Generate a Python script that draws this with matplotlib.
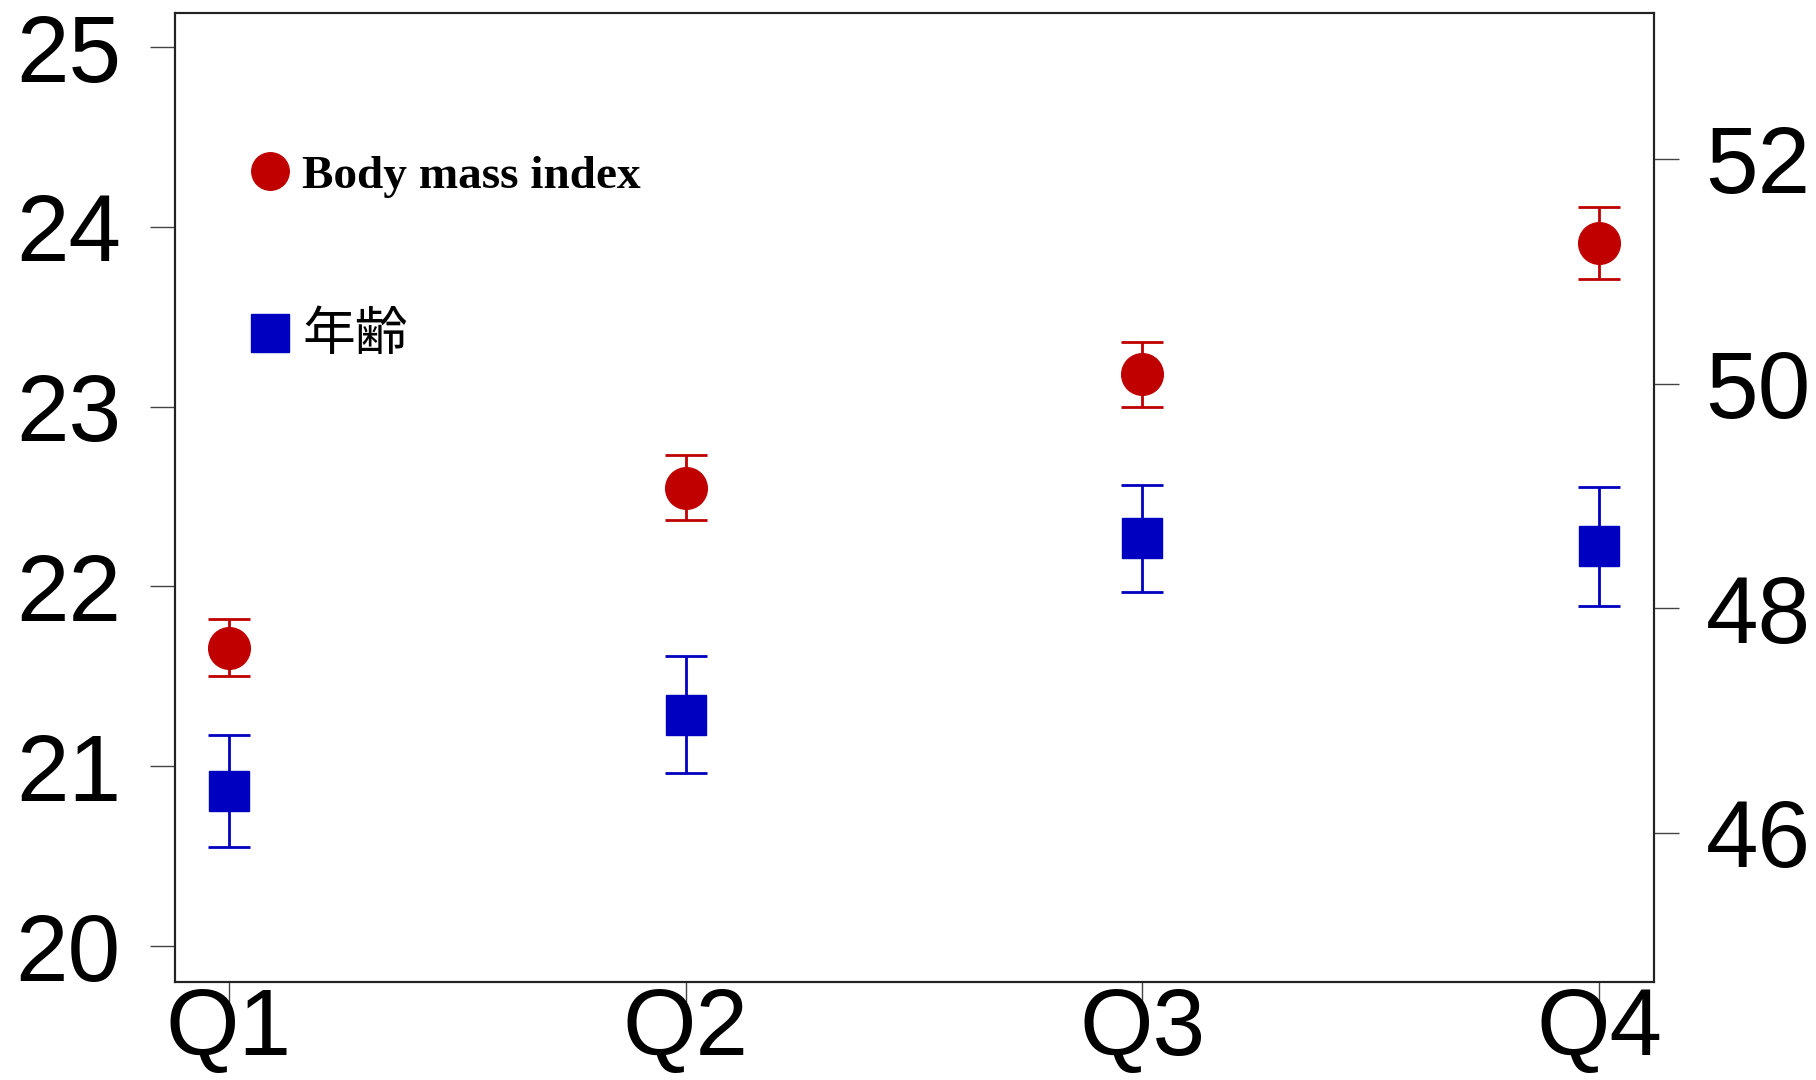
import matplotlib
matplotlib.use('Agg')
import matplotlib.pyplot as plt
from matplotlib.lines import Line2D
import numpy as np

plt.rcParams['font.family'] = ['Liberation Sans', 'DejaVu Sans']

quartiles = ['Q1', 'Q2', 'Q3', 'Q4']
bmi = [21.66, 22.55, 23.18, 23.91]
bmi_err = [0.16, 0.18, 0.18, 0.20]
age = [46.37, 47.05, 48.62, 48.55]
age_err = [0.50, 0.52, 0.48, 0.53]
left_ticks = [20, 21, 22, 23, 24, 25]
right_ticks = [46, 48, 50, 52]

red = '#c00000'
blue = '#0000c0'

fig = plt.figure(figsize=(18.16, 10.8), dpi=100)
ax = fig.add_axes([0.0964, 0.0907, 0.8144, 0.8973])
ax2 = ax.twinx()

x = np.arange(1, len(quartiles) + 1)

ax.errorbar(x, bmi, yerr=bmi_err, fmt='o', color=red, ecolor=red,
            markersize=30, elinewidth=2, capsize=15, capthick=2)
ax2.errorbar(x, age, yerr=age_err, fmt='s', color=blue, ecolor=blue,
             markersize=29, elinewidth=2, capsize=15, capthick=2)

ax.set_xlim(0.882, 4.12)
ax.set_ylim(19.8, 25.19)
ax2.set_ylim(44.67, 53.3)

ax.set_xticks(x)
ax.set_xticklabels(quartiles)
ax.set_yticks(left_ticks)
ax2.set_yticks(right_ticks)

for a in (ax, ax2):
    for s in a.spines.values():
        s.set_linewidth(1.5)
        s.set_color('#222222')

ax.tick_params(axis='both', labelsize=68, length=18, width=1, color='#444444')
ax.tick_params(axis='y', pad=21)
ax.tick_params(axis='x', pad=-15)
ax2.tick_params(axis='y', labelsize=68, length=18, width=1, color='#444444', pad=19)

handles = [
    Line2D([], [], marker='o', linestyle='none', color=red, markersize=27),
    Line2D([], [], marker='s', linestyle='none', color=blue, markersize=27),
]
leg = ax.legend(handles, ['Body mass index', '年齢'], loc='upper left',
                bbox_to_anchor=(0.0355, 0.873), frameon=False, fontsize=34,
                handlelength=1.0, handletextpad=0.18, labelspacing=2.3,
                borderaxespad=0)
t0, t1 = leg.get_texts()
t0.set_fontfamily(['Liberation Serif', 'DejaVu Serif'])
t0.set_fontweight('bold')
t1.set_fontfamily(['Noto Sans CJK JP', 'DejaVu Sans'])
t1.set_fontsize(38)

fig.savefig('out.png', dpi=100)
plt.close()
